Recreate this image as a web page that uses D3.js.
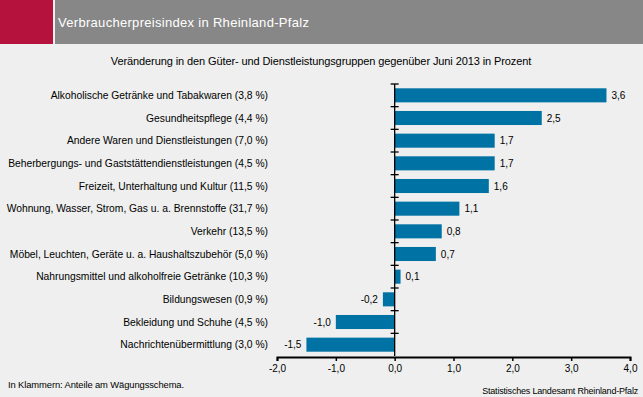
<!DOCTYPE html>
<html>
<head>
<meta charset="utf-8">
<script src="https://cdn.jsdelivr.net/npm/d3@7"></script>
<style>
  body { margin: 0; background: #eeefee; }
  svg { display: block; font-family: "Liberation Sans", Arial, sans-serif; }
</style>
</head>
<body>
<div id="chart"></div>
<script>
const categories = [
  "Alkoholische Getränke und Tabakwaren (3,8 %)",
  "Gesundheitspflege (4,4 %)",
  "Andere Waren und Dienstleistungen (7,0 %)",
  "Beherbergungs- und Gaststättendienstleistungen (4,5 %)",
  "Freizeit, Unterhaltung und Kultur (11,5 %)",
  "Wohnung, Wasser, Strom, Gas u. a. Brennstoffe (31,7 %)",
  "Verkehr (13,5 %)",
  "Möbel, Leuchten, Geräte u. a. Haushaltszubehör (5,0 %)",
  "Nahrungsmittel und alkoholfreie Getränke (10,3 %)",
  "Bildungswesen (0,9 %)",
  "Bekleidung und Schuhe (4,5 %)",
  "Nachrichtenübermittlung (3,0 %)"
];
const values = [3.6, 2.5, 1.7, 1.7, 1.6, 1.1, 0.8, 0.7, 0.1, -0.2, -1.0, -1.5];
const xTicks = [-2, -1, 0, 1, 2, 3, 4];

const width = 643, height = 397;
const fmt = d3.format(".1f");
// German decimal comma, plain hyphen for minus
const de = v => fmt(v).replace(".", ",").replace("\u2212", "-");

const svg = d3.select("#chart").append("svg")
  .attr("width", width)
  .attr("height", height);

svg.append("rect").attr("width", width).attr("height", height).attr("fill", "#eeefee");

// header band
svg.append("rect").attr("x", 0).attr("y", 0).attr("width", 53).attr("height", 44).attr("fill", "#b5123e");
svg.append("rect").attr("x", 55).attr("y", 0).attr("width", width - 55).attr("height", 44).attr("fill", "#878787");
svg.append("text")
  .attr("x", 58).attr("y", 27)
  .attr("fill", "#fff")
  .style("font-size", "13px")
  .style("letter-spacing", "0.3px")
  .text("Verbraucherpreisindex in Rheinland-Pfalz");

svg.append("text")
  .attr("x", 321).attr("y", 65)
  .attr("text-anchor", "middle")
  .attr("fill", "#000")
  .style("font-size", "11px")
  .style("letter-spacing", "-0.1px")
  .text("Veränderung in den Güter- und Dienstleistungsgruppen gegenüber Juni 2013 in Prozent");

const x = d3.scaleLinear().domain([-2, 4]).range([277, 630]);
const y = d3.scaleBand().domain(categories).range([84, 356]).paddingInner(0.38).paddingOuter(0.19);

// bars
svg.selectAll(".bar")
  .data(values)
  .enter().append("rect")
  .attr("class", "bar")
  .attr("x", d => x(Math.min(0, d)))
  .attr("y", (d, i) => y(categories[i]))
  .attr("width", d => Math.abs(x(d) - x(0)))
  .attr("height", y.bandwidth())
  .attr("fill", "#0072a4");

// value labels
svg.selectAll(".val")
  .data(values)
  .enter().append("text")
  .attr("class", "val")
  .attr("x", d => d >= 0 ? x(d) + 5 : x(d) - 5)
  .attr("y", (d, i) => y(categories[i]) + y.bandwidth() / 2)
  .attr("dy", "0.35em")
  .attr("text-anchor", d => d >= 0 ? "start" : "end")
  .style("font-size", "10px")
  .text(d => de(d));

// category labels
svg.selectAll(".cat")
  .data(categories)
  .enter().append("text")
  .attr("class", "cat")
  .attr("x", 268)
  .attr("y", d => y(d) + y.bandwidth() / 2)
  .attr("dy", "0.35em")
  .attr("text-anchor", "end")
  .style("font-size", "10.3px")
  .text(d => d);

// vertical zero axis with crossing ticks
const x0 = x(0);
svg.append("line")
  .attr("x1", x0).attr("x2", x0)
  .attr("y1", 84).attr("y2", 356)
  .attr("stroke", "#000").attr("stroke-width", 1.3);
const bandStep = y.step();
svg.selectAll(".ytick")
  .data(d3.range(categories.length))
  .enter().append("line")
  .attr("class", "ytick")
  .attr("x1", x0 - 4).attr("x2", x0 + 4)
  .attr("y1", i => 84 + i * bandStep)
  .attr("y2", i => 84 + i * bandStep)
  .attr("stroke", "#000").attr("stroke-width", 1.3);

// bottom axis
const xAxis = svg.append("g")
  .attr("transform", "translate(0,357)")
  .call(d3.axisBottom(x).tickValues(xTicks).tickFormat(de).tickSize(4).tickPadding(4));
xAxis.select(".domain").attr("stroke-width", 2);
xAxis.selectAll(".tick line").attr("stroke-width", 1.5);
xAxis.selectAll("text")
  .style("font-size", "10px")
  .style("font-family", "'Liberation Sans', Arial, sans-serif")
  .attr("fill", "#000");

// footer
svg.append("text")
  .attr("x", 8).attr("y", 388)
  .style("font-size", "9.4px")
  .style("letter-spacing", "-0.1px")
  .text("In Klammern: Anteile am Wägungsschema.");
svg.append("text")
  .attr("x", 638).attr("y", 394)
  .attr("text-anchor", "end")
  .style("font-size", "9px")
  .style("letter-spacing", "-0.2px")
  .text("Statistisches Landesamt Rheinland-Pfalz");
</script>
</body>
</html>
